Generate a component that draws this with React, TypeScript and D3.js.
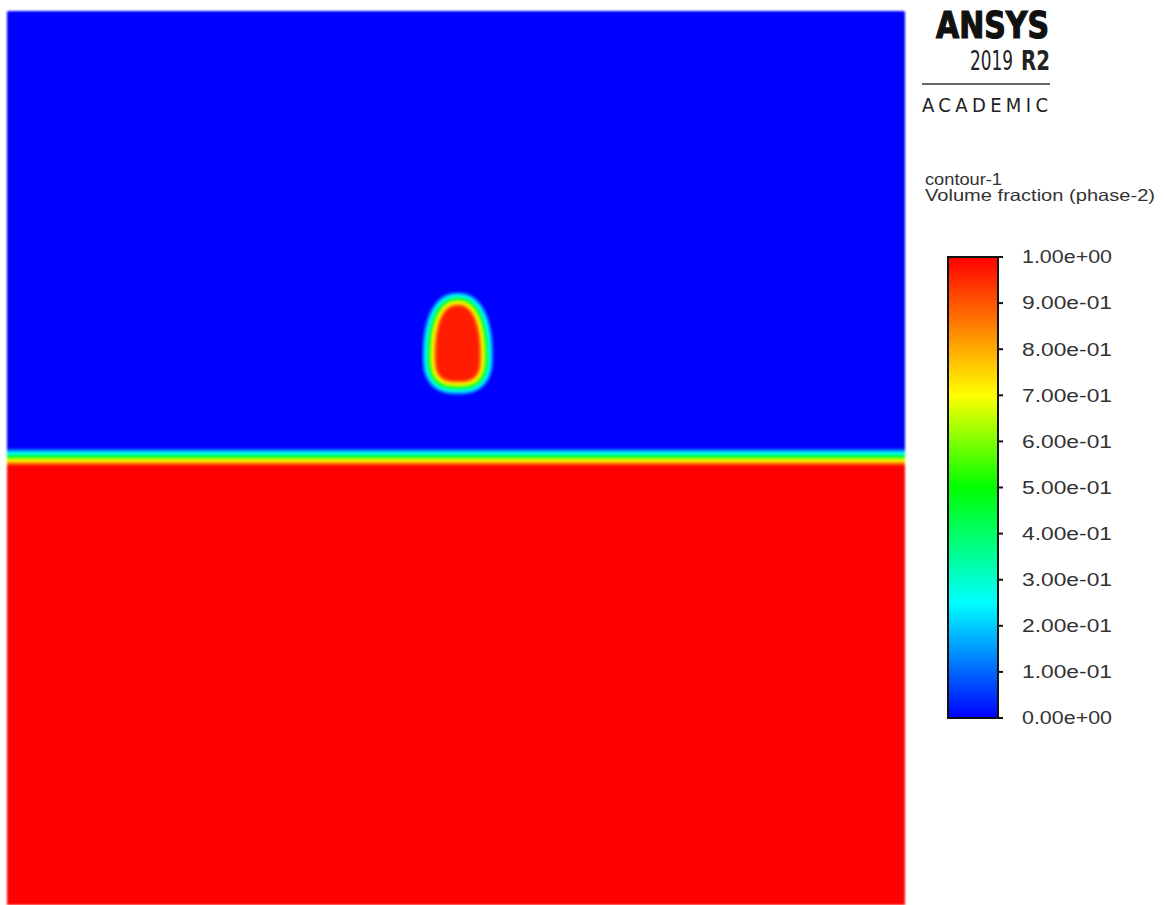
import React, { useMemo } from 'react';
import * as d3 from 'd3';

const WIDTH = 1165;
const HEIGHT = 905;

// Rainbow colour map used for the contour and its legend
const COLOR_OFFSETS = [0, 0.25, 0.5, 0.7, 1];
const COLOR_VALUES = ['#0000ff', '#00ffff', '#00ff00', '#ffff00', '#ff0000'];

// Legend ticks
const LEGEND_VALUES = [1.0, 0.9, 0.8, 0.7, 0.6, 0.5, 0.4, 0.3, 0.2, 0.1, 0.0];
const LEGEND_LABELS = [
  '1.00e+00', '9.00e-01', '8.00e-01', '7.00e-01', '6.00e-01', '5.00e-01',
  '4.00e-01', '3.00e-01', '2.00e-01', '1.00e-01', '0.00e+00',
];

// Contour band levels of the volume fraction
const CONTOUR_LEVELS = [
  0, 0.02, 0.04, 0.06, 0.08, 0.1, 0.12, 0.14, 0.16, 0.18, 0.2, 0.22, 0.24, 0.26,
  0.28, 0.3, 0.32, 0.34, 0.36, 0.38, 0.4, 0.42, 0.44, 0.46, 0.48, 0.5, 0.52, 0.54,
  0.56, 0.58, 0.6, 0.62, 0.64, 0.66, 0.68, 0.7, 0.72, 0.74, 0.76, 0.78, 0.8, 0.82,
  0.84, 0.86, 0.88, 0.9, 0.92, 0.94, 0.96, 0.98, 1.0,
];

// Phase-2 distribution in the tank (normalised domain, y pointing up)
const FREE_SURFACE_LEVEL = 0.501;
const FREE_SURFACE_THICKNESS = 0.019;
const DROPLET_CENTER = [0.502, 0.614];
const DROPLET_HALF_WIDTH = 0.0318;
const DROPLET_HALF_HEIGHTS = [0.0636, 0.0352]; // above / below the centre
const DROPLET_EXPONENTS = [2.3, 2.7]; // superellipse exponents above / below
const DROPLET_EDGE_THICKNESS = 0.0165;
const DROPLET_PEAK = 0.96;

// Layout
const PLOT = { left: 7, top: 11, right: 905, bottom: 905 };
const BAR = { x: 948, width: 50, top: 257, bottom: 718 };
const GRID_NX = 449;
const GRID_NY = 447;

const colorScale = d3
  .scaleLinear<string>()
  .domain(COLOR_OFFSETS)
  .range(COLOR_VALUES)
  .interpolate(d3.interpolateRgb)
  .clamp(true);

function useField() {
  return useMemo(() => {
    const xScale = d3.scaleLinear().domain([0, 1]).range([PLOT.left, PLOT.right]);
    const yScale = d3.scaleLinear().domain([0, 1]).range([PLOT.bottom, PLOT.top]);
    const pw = PLOT.right - PLOT.left;
    const ph = PLOT.bottom - PLOT.top;

    const cx = xScale(DROPLET_CENTER[0]);
    const cy = yScale(DROPLET_CENTER[1]);
    const a = DROPLET_HALF_WIDTH * pw;
    const bTop = DROPLET_HALF_HEIGHTS[0] * ph;
    const bBot = DROPLET_HALF_HEIGHTS[1] * ph;
    const surface = yScale(FREE_SURFACE_LEVEL);
    const surfThick = FREE_SURFACE_THICKNESS * ph;
    const edge = DROPLET_EDGE_THICKNESS * ph;

    const radius = (px: number, py: number) => {
      const dx = Math.abs(px - cx) / a;
      const above = py < cy;
      const dy = Math.abs(py - cy) / (above ? bTop : bBot);
      const n = above ? DROPLET_EXPONENTS[0] : DROPLET_EXPONENTS[1];
      return Math.pow(Math.pow(dx, n) + Math.pow(dy, n), 1 / n);
    };

    const sx = pw / GRID_NX;
    const sy = ph / GRID_NY;
    const values = new Float64Array(GRID_NX * GRID_NY);
    for (let j = 0; j < GRID_NY; j++) {
      const py = PLOT.top + (j + 0.5) * sy;
      const pool = Math.max(0, Math.min(1, (py - (surface - surfThick / 2)) / surfThick));
      for (let i = 0; i < GRID_NX; i++) {
        const px = PLOT.left + (i + 0.5) * sx;
        let v = pool;
        if (Math.abs(px - cx) < a * 2 && Math.abs(py - cy) < bTop * 2) {
          const r = radius(px, py);
          const h = 0.5;
          const gx = (radius(px + h, py) - radius(px - h, py)) / (2 * h);
          const gy = (radius(px, py + h) - radius(px, py - h)) / (2 * h);
          const g = Math.hypot(gx, gy);
          const d = g > 1e-9 ? (r - 1) / g : -Infinity;
          const drop = DROPLET_PEAK * Math.max(0, Math.min(1, 0.5 - d / edge));
          v = Math.max(v, drop);
        }
        values[j * GRID_NX + i] = v;
      }
    }

    const contours = d3.contours().size([GRID_NX, GRID_NY]).thresholds(CONTOUR_LEVELS)(
      Array.from(values)
    );
    const path = d3.geoPath();
    const step = CONTOUR_LEVELS[1] - CONTOUR_LEVELS[0];
    return contours.map((c, k) => ({
      d: path(c) || '',
      fill: colorScale(k === 0 ? 0 : Math.min(1, c.value + step / 2)),
    }));
  }, []);
}

export default function App() {
  const bands = useField();
  const legendY = d3.scaleLinear().domain([0, 1]).range([BAR.bottom, BAR.top]);
  const sx = (PLOT.right - PLOT.left) / GRID_NX;
  const sy = (PLOT.bottom - PLOT.top) / GRID_NY;
  const labelFont = '"Liberation Sans", Arial, sans-serif';
  const logoFont = '"DejaVu Sans Condensed", "Liberation Sans Narrow", "DejaVu Sans", sans-serif';
  const squeeze = 0.75;

  return (
    <svg
      width={WIDTH}
      height={HEIGHT}
      style={{ position: 'absolute', left: 0, top: 0, background: '#ffffff' }}
    >
      <defs>
        <linearGradient id="bar-gradient" x1="0" y1="1" x2="0" y2="0">
          {COLOR_OFFSETS.map((o, i) => (
            <stop key={i} offset={o} stopColor={COLOR_VALUES[i]} />
          ))}
        </linearGradient>
        <filter id="soft" x="-1%" y="-1%" width="102%" height="102%">
          <feGaussianBlur stdDeviation="0.8" />
        </filter>
      </defs>

      {/* volume fraction contour */}
      <g filter="url(#soft)">
        <g transform={`translate(${PLOT.left},${PLOT.top}) scale(${sx},${sy})`}>
          {bands.map((b, i) => (
            <path key={i} d={b.d} fill={b.fill} stroke="none" />
          ))}
        </g>
      </g>

      {/* product badge */}
      <g fill="#111111">
        <text
          x={936}
          y={38}
          fontFamily={logoFont}
          fontWeight="bold"
          fontSize={37}
          stroke="#111111"
          strokeWidth={1.2}
          textLength={113}
          lengthAdjust="spacingAndGlyphs"
        >
          ANSYS
        </text>
        <text
          transform={`translate(970,70) scale(${squeeze},1)`}
          fontFamily={logoFont}
          fontSize={26}
          fill="#222222"
          textLength={43 / squeeze}
          lengthAdjust="spacingAndGlyphs"
        >
          2019
        </text>
        <text
          transform={`translate(1021,70) scale(${squeeze},1)`}
          fontFamily={logoFont}
          fontSize={26}
          fontWeight="bold"
          fill="#222222"
          textLength={29 / squeeze}
          lengthAdjust="spacingAndGlyphs"
        >
          R2
        </text>
        <line x1={922} x2={1050} y1={84} y2={84} stroke="#333333" strokeWidth={1.5} />
        <text
          x={922}
          y={112}
          fontFamily={logoFont}
          fontSize={20}
          fill="#222222"
          textLength={126}
          lengthAdjust="spacing"
        >
          ACADEMIC
        </text>
      </g>

      {/* legend title */}
      <g fill="#333333" fontFamily={labelFont}>
        <text x={925} y={185} fontSize={16.5} textLength={77} lengthAdjust="spacingAndGlyphs">
          contour-1
        </text>
        <text x={925} y={201} fontSize={16.5} textLength={230} lengthAdjust="spacingAndGlyphs">
          Volume fraction (phase-2)
        </text>
      </g>

      {/* colour bar */}
      <rect
        x={BAR.x}
        y={BAR.top}
        width={BAR.width}
        height={BAR.bottom - BAR.top}
        fill="url(#bar-gradient)"
        stroke="#111111"
        strokeWidth={2}
      />
      {LEGEND_VALUES.map((v, i) => (
        <g key={i}>
          <line
            x1={BAR.x + BAR.width}
            x2={BAR.x + BAR.width + 5}
            y1={legendY(v)}
            y2={legendY(v)}
            stroke="#111111"
            strokeWidth={2}
          />
          <text
            x={1022}
            y={legendY(v)}
            dy="0.36em"
            fontFamily={labelFont}
            fontSize={17.5}
            fill="#333333"
            textLength={90}
            lengthAdjust="spacingAndGlyphs"
          >
            {LEGEND_LABELS[i]}
          </text>
        </g>
      ))}
    </svg>
  );
}
